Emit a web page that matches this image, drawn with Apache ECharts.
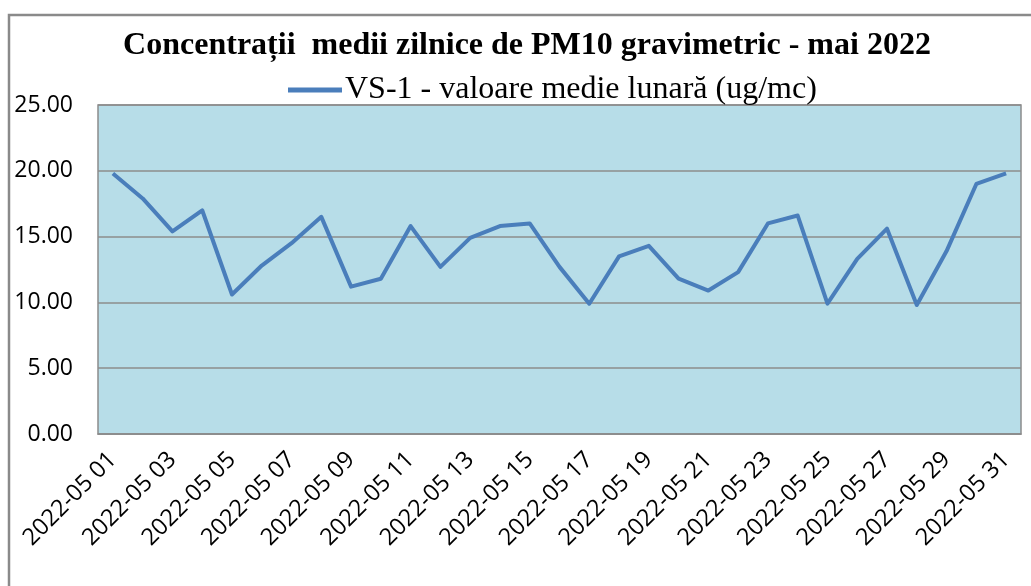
<!DOCTYPE html>
<html>
<head>
<meta charset="utf-8">
<title>PM10 mai 2022</title>
<script src="https://cdn.jsdelivr.net/npm/echarts@6/dist/echarts.min.js"></script>
<style>
  html, body { margin: 0; padding: 0; background: #fff; }
  #chart { width: 1031px; height: 586px; }
</style>
</head>
<body>
<div id="chart"></div>
<script>
'use strict';

// daily values (ug/mc)
const days = [
  '2022-05 01', '2022-05 02', '2022-05 03', '2022-05 04', '2022-05 05', '2022-05 06',
  '2022-05 07', '2022-05 08', '2022-05 09', '2022-05 10', '2022-05 11', '2022-05 12',
  '2022-05 13', '2022-05 14', '2022-05 15', '2022-05 16', '2022-05 17', '2022-05 18',
  '2022-05 19', '2022-05 20', '2022-05 21', '2022-05 22', '2022-05 23', '2022-05 24',
  '2022-05 25', '2022-05 26', '2022-05 27', '2022-05 28', '2022-05 29', '2022-05 30',
  '2022-05 31'
];
const vs1 = [
  19.8, 17.9, 15.4, 17.0, 10.6, 12.8, 14.5, 16.5, 11.2, 11.8, 15.8,
  12.7, 14.9, 15.8, 16.0, 12.7, 9.9, 13.5, 14.3, 11.8, 10.9,
  12.3, 16.0, 16.6, 9.9, 13.3, 15.6, 9.8, 13.9, 19.0, 19.8
];
const yTicks = { min: 0, max: 25, step: 5 };
const titleText = 'Concentrații  medii zilnice de PM10 gravimetric - mai 2022';
const seriesName = 'VS-1 - valoare medie lunară (ug/mc)';

const chart = echarts.init(document.getElementById('chart'));

const option = {
  animation: false,
  backgroundColor: '#fff',
  graphic: [
    {
      type: 'rect',
      shape: { x: 9, y: 15, width: 1040, height: 600 },
      style: { fill: 'none', stroke: '#8a8a8a', lineWidth: 2.5 },
      silent: true,
      z: -1
    }
  ],
  title: {
    text: titleText,
    left: 522,
    top: 25,
    textAlign: 'center',
    textStyle: {
      fontFamily: 'Liberation Serif',
      fontWeight: 'bold',
      fontSize: 32,
      color: '#000'
    }
  },
  legend: {
    data: [seriesName],
    left: 283,
    top: 69,
    itemWidth: 54,
    itemHeight: 5,
    itemGap: 4,
    icon: 'rect',
    textStyle: {
      fontFamily: 'Liberation Serif',
      fontSize: 32,
      color: '#000',
      padding: [0, 0, 0, -2]
    }
  },
  grid: {
    left: 98,
    right: 10,
    top: 105,
    bottom: 152,
    show: true,
    backgroundColor: '#B7DDE8',
    borderColor: '#8c8c8c',
    borderWidth: 1.5,
    containLabel: false
  },
  xAxis: {
    type: 'category',
    data: days,
    boundaryGap: true,
    axisLine: { show: true, lineStyle: { color: '#8c8c8c', width: 1.5 } },
    axisTick: { show: false, length: 0 },
    axisLabel: {
      interval: 1,
      rotate: 45,
      margin: 22,
      fontFamily: 'Open Sans',
      fontSize: 23.5,
      color: '#000'
    }
  },
  yAxis: {
    type: 'value',
    min: yTicks.min,
    max: yTicks.max,
    interval: yTicks.step,
    axisLine: { show: false },
    axisTick: { show: false },
    axisLabel: {
      margin: 25,
      fontFamily: 'Open Sans',
      fontSize: 23,
      color: '#000',
      formatter: v => v.toFixed(2)
    },
    splitLine: { lineStyle: { color: '#8c8c8c', width: 1.5 } }
  },
  series: [
    {
      name: seriesName,
      type: 'line',
      data: vs1,
      symbol: 'none',
      smooth: false,
      lineStyle: { color: '#4A7EBB', width: 4, join: 'round' },
      itemStyle: { color: '#4A7EBB' }
    }
  ]
};

chart.setOption(option);
window.addEventListener('resize', () => chart.resize());
</script>
</body>
</html>
